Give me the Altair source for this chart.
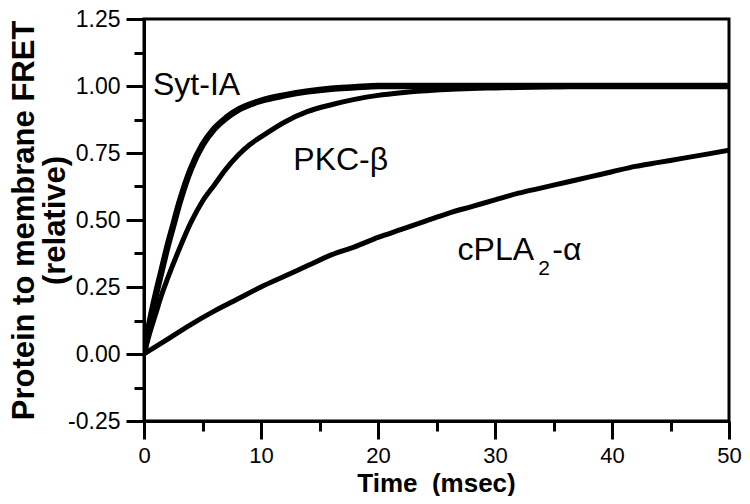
import altair as alt
import pandas as pd

# ---- data ----
syt_t = [0, 0.5, 1, 1.5, 2, 2.5, 3, 4, 5, 6, 7, 8, 9, 10, 12, 14, 16, 18, 20, 25, 30, 35, 40, 45, 50]
syt_v = [0, 0.12, 0.22, 0.31, 0.40, 0.48, 0.56, 0.69, 0.78, 0.84, 0.88, 0.91, 0.93, 0.945, 0.965,
         0.98, 0.99, 0.995, 1.0, 1.0, 1.0, 1.0, 1.0, 1.0, 1.0]

pkc_t = [0, 0.5, 1, 1.5, 2, 3, 4, 5, 6, 7, 8, 9, 10, 12, 14, 16, 18, 20, 22, 25, 30, 35, 40, 45, 50]
pkc_v = [0, 0.08, 0.15, 0.22, 0.28, 0.39, 0.49, 0.57, 0.63, 0.69, 0.74, 0.78, 0.81, 0.865, 0.905,
         0.93, 0.95, 0.965, 0.975, 0.985, 0.993, 0.997, 1.0, 1.0, 1.0]

cpla_t = [0, 2, 4, 6, 8, 10, 12, 14, 16, 18, 20, 22, 24, 26, 28, 30, 32, 34, 36, 38, 40, 42, 44, 46, 48, 50]
cpla_v = [0, 0.055, 0.11, 0.16, 0.205, 0.25, 0.29, 0.33, 0.37, 0.40, 0.435, 0.465, 0.495, 0.525,
          0.55, 0.575, 0.60, 0.62, 0.64, 0.66, 0.68, 0.70, 0.715, 0.73, 0.745, 0.76]

series_names = ["Syt-IA", "PKC-β", "cPLA2-α"]

x_major = [0, 10, 20, 30, 40, 50]
x_minor = [5, 15, 25, 35, 45]
y_major = [-0.25, 0, 0.25, 0.5, 0.75, 1.0, 1.25]
y_minor = [-0.125, 0.125, 0.375, 0.625, 0.875, 1.125]

label_text = ["Syt-IA", "PKC-β", "cPLA", "-α"]
label_t = [0.77, 12.76, 26.8, 34.9]
label_v = [0.966, 0.687, 0.35, 0.35]

sub_text = ["2"]
sub_t = [33.7]
sub_v = [0.295]

# ---- tables ----
rows = []
for name, ts, vs in zip(series_names, [syt_t, pkc_t, cpla_t], [syt_v, pkc_v, cpla_v]):
    rows += [{"series": name, "t": t, "v": v} for t, v in zip(ts, vs)]
df = pd.DataFrame(rows)
labels_df = pd.DataFrame({"text": label_text, "t": label_t, "v": label_v})
sub_df = pd.DataFrame({"text": sub_text, "t": sub_t, "v": sub_v})

FONT = "Liberation Sans"

x_scale = alt.Scale(domain=[0, 50], nice=False, zero=False)
y_scale = alt.Scale(domain=[-0.25, 1.25], nice=False, zero=False)

x_axis = alt.Axis(
    values=x_major, format="d", orient="bottom",
    tickSize=18, tickWidth=3, domainWidth=3, tickColor="black", domainColor="black",
    labelFont=FONT, labelFontSize=22, labelColor="black", labelPadding=6,
    labelFlush=False, labelOverlap=False, grid=False,
    title="Time\u00a0 (msec)", titleFont=FONT, titleFontSize=26, titleFontWeight="bold",
    titleColor="black", titleX=292, titleY=70, titleBaseline="alphabetic", titleAlign="center",
)
x_axis_minor = alt.Axis(
    values=x_minor, orient="bottom", tickSize=10, tickWidth=3, tickColor="black",
    domain=False, labels=False, grid=False, title=None,
)

y_axis = alt.Axis(
    values=y_major, orient="left",
    labelExpr="replace(format(datum.value, '.2f'), '\u2212', '-')",
    tickSize=18, tickWidth=3, domainWidth=3, tickColor="black", domainColor="black",
    labelFont=FONT, labelFontSize=23, labelColor="black", labelPadding=6,
    labelFlush=False, labelOverlap=False, grid=False,
    title=["Protein to membrane FRET", "(relative)"], titleFont=FONT, titleFontSize=31,
    titleFontWeight="bold", titleColor="black", titleLineHeight=31,
    titleAngle=-90, titleX=-135, titleY=201, titleAlign="center", titleBaseline="top",
)
y_axis_minor = alt.Axis(
    values=y_minor, orient="left", tickSize=10, tickWidth=3, tickColor="black",
    domain=False, labels=False, grid=False, title=None,
)

widths = {"Syt-IA": 6.5, "PKC-β": 5, "cPLA2-α": 5}

layers = []
for i, name in enumerate(series_names):
    if i == 0:
        enc_x = alt.X("t:Q", scale=x_scale, axis=x_axis)
        enc_y = alt.Y("v:Q", scale=y_scale, axis=y_axis)
    elif i == 1:
        enc_x = alt.X("t:Q", scale=x_scale, axis=x_axis_minor)
        enc_y = alt.Y("v:Q", scale=y_scale, axis=y_axis_minor)
    else:
        enc_x = alt.X("t:Q", scale=x_scale, axis=None)
        enc_y = alt.Y("v:Q", scale=y_scale, axis=None)
    layers.append(
        alt.Chart(df).transform_filter(alt.datum.series == name)
        .mark_line(color="black", strokeWidth=widths[name], interpolate="monotone", clip=True)
        .encode(x=enc_x, y=enc_y, order="t:Q")
    )

text_main = alt.Chart(labels_df).mark_text(
    font=FONT, fontSize=32, color="black", align="left", baseline="alphabetic"
).encode(x=alt.X("t:Q", scale=x_scale, axis=None),
         y=alt.Y("v:Q", scale=y_scale, axis=None), text="text:N")

text_sub = alt.Chart(sub_df).mark_text(
    font=FONT, fontSize=21, color="black", align="left", baseline="alphabetic"
).encode(x=alt.X("t:Q", scale=x_scale, axis=None),
         y=alt.Y("v:Q", scale=y_scale, axis=None), text="text:N")

chart = alt.layer(*layers, text_main, text_sub).resolve_axis(
    x="independent", y="independent"
).properties(
    width=585, height=402,
    autosize=alt.AutoSizeParams(type="none"),
    padding={"left": 136, "top": 11, "right": 13, "bottom": 75},
).configure_view(stroke="black", strokeWidth=3)

chart.save("out.html", embed_options={"renderer": "svg", "actions": False})
